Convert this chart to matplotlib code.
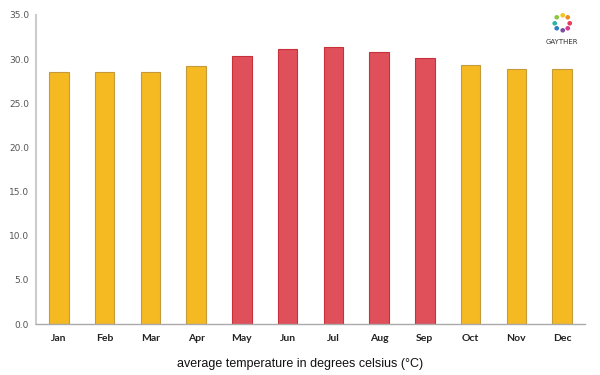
import matplotlib.pyplot as plt
import numpy as np

months = ["Jan", "Feb", "Mar", "Apr", "May", "Jun",
          "Jul", "Aug", "Sep", "Oct", "Nov", "Dec"]
temps = [28.6, 28.5, 28.5, 29.2, 30.4, 31.1, 31.4, 30.8, 30.1, 29.3, 28.9, 28.9]
hot = [False, False, False, False, True, True, True, True, True, False, False, False]

YELLOW = "#f5b921"
YELLOW_EDGE = "#c49a3a"
RED = "#e0505a"
RED_EDGE = "#c8303a"

fig = plt.figure(figsize=(6, 3.75), dpi=100)
ax = fig.add_axes([0.06, 0.136, 0.915, 0.824])

x = np.arange(len(months))
colors = [RED if h else YELLOW for h in hot]
edges = [RED_EDGE if h else YELLOW_EDGE for h in hot]
ax.bar(x, temps, width=0.43, color=colors, edgecolor=edges, linewidth=0.8)

ax.set_xlim(-0.5, 11.5)
ax.set_ylim(0, 35)
ax.set_yticks(np.arange(0, 36, 5))
ax.set_yticklabels(["%.1f" % v for v in np.arange(0, 36, 5)])
ax.set_xticks(x)
ax.set_xticklabels(months)

ax.tick_params(axis="y", length=0, pad=5, labelsize=6.5, labelcolor="#555555")
ax.tick_params(axis="x", length=0, pad=7, labelsize=7.5, labelcolor="#222222")
for lbl in ax.get_xticklabels():
    lbl.set_family("Lato")
    lbl.set_fontweight("bold")

for side in ["top", "right"]:
    ax.spines[side].set_visible(False)
ax.spines["left"].set_color("#cccccc")
ax.spines["left"].set_linewidth(1.5)
ax.spines["bottom"].set_color("#aaaaaa")
ax.spines["bottom"].set_linewidth(1.0)

ax.set_xlabel("average temperature in degrees celsius (\u00b0C)",
              family="Liberation Sans", fontsize=9, color="#111111", labelpad=5)
ax.xaxis.set_label_coords(0.481, -0.11)

# little logo in the top right corner
logo_cols = ["#e53a5c", "#f08a24", "#f5c518", "#8cc63f", "#2bb3a3", "#2a7fc1", "#7a4fa0", "#d63c8f"]
ang = np.linspace(0, 2 * np.pi, 8, endpoint=False)
lx = 0.9365 + 0.013 * np.cos(ang)
ly = 0.94 + 0.021 * np.sin(ang)
for i in range(8):
    fig.text(lx[i], ly[i], "\u25cf", color=logo_cols[i], fontsize=4.5, ha="center", va="center")
fig.text(0.9365, 0.888, "GAYTHER", fontsize=5, color="#333333", ha="center", va="center")

plt.savefig("out.png", dpi=100)
